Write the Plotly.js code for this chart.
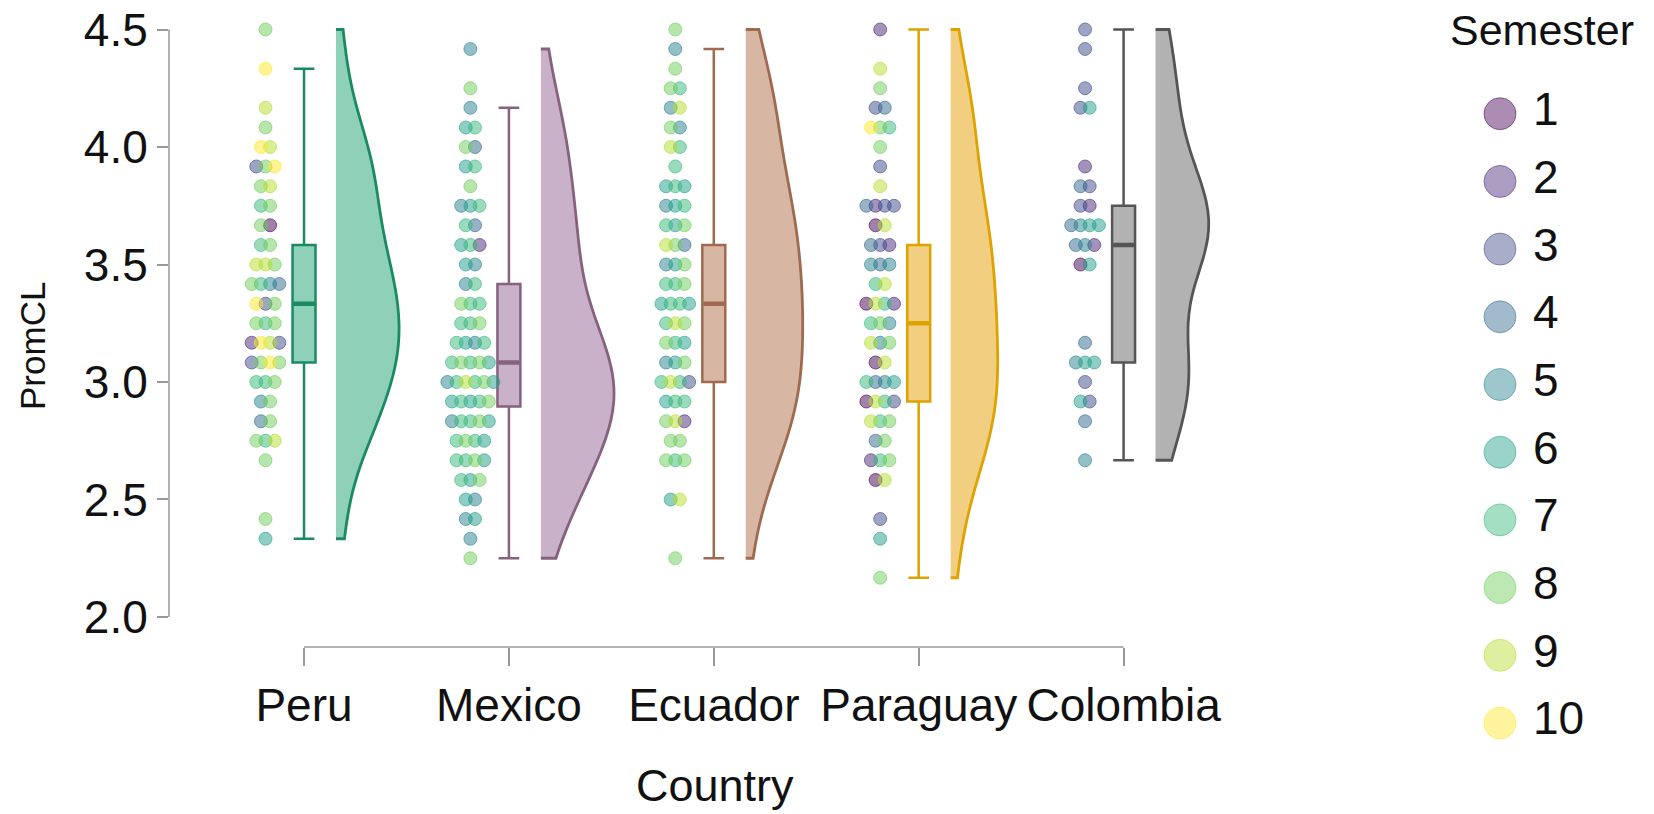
<!DOCTYPE html>
<html><head><meta charset="utf-8">
<script src="https://cdn.plot.ly/plotly-3.0.1.min.js"></script>
<style>html,body{margin:0;padding:0;background:#fff;} #chart{width:1654px;height:814px;}</style>
</head><body><div id="chart"></div>
<script>
// ---------- data ----------
const countries = ['Peru', 'Mexico', 'Ecuador', 'Paraguay', 'Colombia'];
const semesters = [1, 2, 3, 4, 5, 6, 7, 8, 9, 10];
const yTicks = [2.0, 2.5, 3.0, 3.5, 4.0, 4.5];

const peruPromCL = [4.5, 4.333, 4.167, 4.083, 4, 4, 3.917, 3.917, 3.917, 3.833, 3.833, 3.75, 3.75, 3.667, 3.667,
  3.583, 3.583, 3.5, 3.5, 3.5, 3.417, 3.417, 3.417, 3.417, 3.333, 3.333, 3.333, 3.25, 3.25, 3.25,
  3.167, 3.167, 3.167, 3.167, 3.083, 3.083, 3.083, 3.083, 3, 3, 3, 2.917, 2.917, 2.833, 2.833,
  2.75, 2.75, 2.75, 2.667, 2.417, 2.333];
const peruSemester = [8, 10, 9, 8, 10, 9, 3, 8, 10, 8, 9, 7, 8, 8, 1,
  7, 8, 9, 9, 8, 8, 7, 5, 4, 10, 3, 8, 8, 7, 8,
  2, 10, 9, 3, 3, 8, 10, 8, 7, 7, 8, 5, 8, 4, 8,
  8, 7, 9, 8, 8, 6];

const mexicoPromCL = [4.417, 4.25, 4.167, 4.083, 4.083, 4, 4, 3.917, 3.917, 3.833, 3.75, 3.75, 3.75,
  3.667, 3.667, 3.583, 3.583, 3.583, 3.5, 3.5, 3.417, 3.417, 3.333, 3.333, 3.333, 3.25, 3.25, 3.25,
  3.167, 3.167, 3.167, 3.167, 3.083, 3.083, 3.083, 3.083, 3.083, 3, 3, 3, 3, 3, 3,
  2.917, 2.917, 2.917, 2.917, 2.917, 2.833, 2.833, 2.833, 2.833, 2.833, 2.75, 2.75, 2.75, 2.75,
  2.667, 2.667, 2.667, 2.667, 2.583, 2.583, 2.583, 2.5, 2.5, 2.417, 2.417, 2.333, 2.25];
const mexicoSemester = [5, 8, 5, 6, 7, 8, 4, 6, 7, 8, 5, 6, 7,
  7, 4, 6, 7, 2, 6, 5, 5, 7, 8, 7, 7, 7, 7, 8,
  7, 6, 5, 7, 7, 8, 7, 8, 6, 5, 7, 9, 7, 8, 6,
  6, 7, 6, 7, 8, 5, 7, 7, 8, 6, 7, 8, 7, 6,
  7, 7, 8, 6, 7, 6, 8, 6, 5, 5, 6, 5, 8];

const ecuadorPromCL = [4.5, 4.417, 4.333, 4.25, 4.25, 4.167, 4.167, 4.083, 4.083, 4, 4, 3.917,
  3.833, 3.833, 3.833, 3.75, 3.75, 3.75, 3.667, 3.667, 3.667, 3.583, 3.583, 3.583, 3.5, 3.5, 3.5,
  3.417, 3.417, 3.417, 3.333, 3.333, 3.333, 3.333, 3.25, 3.25, 3.25, 3.167, 3.167, 3.167,
  3.083, 3.083, 3.083, 3, 3, 3, 3, 2.917, 2.917, 2.917, 2.833, 2.833, 2.833, 2.75, 2.75,
  2.667, 2.667, 2.667, 2.5, 2.5, 2.25];
const ecuadorSemester = [8, 5, 8, 8, 7, 5, 9, 8, 5, 9, 7, 7,
  6, 7, 6, 5, 6, 7, 7, 6, 8, 9, 8, 4, 5, 6, 8,
  7, 7, 8, 6, 7, 7, 6, 7, 9, 8, 8, 7, 6,
  5, 6, 8, 7, 9, 7, 3, 6, 7, 7, 8, 9, 2, 8, 8,
  8, 7, 8, 6, 9, 8];

const paraguayPromCL = [4.5, 4.333, 4.25, 4.167, 4.167, 4.083, 4.083, 4.083, 4, 3.917, 3.833,
  3.75, 3.75, 3.75, 3.75, 3.667, 3.667, 3.583, 3.583, 3.583, 3.5, 3.5, 3.5, 3.417, 3.417,
  3.333, 3.333, 3.333, 3.333, 3.25, 3.25, 3.25, 3.167, 3.167, 3.167, 3.083, 3.083,
  3, 3, 3, 3, 2.917, 2.917, 2.917, 2.917, 2.833, 2.833, 2.833, 2.75, 2.75,
  2.667, 2.667, 2.667, 2.583, 2.583, 2.417, 2.333, 2.167];
const paraguaySemester = [2, 9, 8, 3, 4, 10, 8, 7, 8, 3, 9,
  4, 2, 3, 3, 1, 9, 4, 3, 2, 5, 4, 5, 7, 9,
  1, 9, 7, 2, 7, 8, 5, 9, 5, 8, 1, 9,
  7, 4, 5, 6, 1, 9, 7, 3, 9, 7, 8, 4, 8,
  2, 7, 8, 1, 9, 3, 6, 8];

const colombiaPromCL = [4.5, 4.417, 4.25, 4.167, 4.167, 3.917, 3.833, 3.833, 3.75, 3.75,
  3.667, 3.667, 3.667, 3.667, 3.583, 3.583, 3.583, 3.5, 3.5, 3.167, 3.083, 3.083, 3.083,
  3, 2.917, 2.917, 2.833, 2.667];
const colombiaSemester = [3, 3, 3, 3, 6, 2, 4, 3, 3, 2,
  4, 5, 6, 6, 4, 5, 2, 1, 6, 4, 5, 6, 6,
  3, 6, 3, 4, 5];

// box statistics
const boxQ1 = [3.083, 2.896, 3.0, 2.917, 3.083];
const boxMedian = [3.333, 3.083, 3.333, 3.25, 3.583];
const boxQ3 = [3.583, 3.417, 3.583, 3.583, 3.75];
const boxLower = [2.333, 2.25, 2.25, 2.167, 2.667];
const boxUpper = [4.333, 4.167, 4.417, 4.5, 4.5];

// ---------- style ----------
const FONT = 'Liberation Sans, Arial, Helvetica, sans-serif';
const semesterColors = ['#440154', '#482878', '#3E4A89', '#31688E', '#26828E', '#1F9E89', '#35B779', '#6DCD59', '#B4DE2C', '#FDE725'];
const lineColors = ['#1A8A64', '#86627F', '#A06A50', '#DDA300', '#555555'];
const fillColors = ['rgba(29,161,113,0.5)', 'rgba(147,101,147,0.5)', 'rgba(177,109,73,0.5)', 'rgba(229,158,2,0.5)', 'rgba(102,102,102,0.5)'];
const violinWidths = [0.615, 0.713, 0.556, 0.459, 0.518];
const POINT_OFFSET = -0.188, POINT_STEP = 0.045, VIOLIN_OFFSET = 0.156, BOX_WIDTH = 0.112;

function rgba(hex, a) {
  const n = parseInt(hex.slice(1), 16);
  return 'rgba(' + ((n >> 16) & 255) + ',' + ((n >> 8) & 255) + ',' + (n & 255) + ',' + a + ')';
}

const allValues = [peruPromCL, mexicoPromCL, ecuadorPromCL, paraguayPromCL, colombiaPromCL];
const allSem = [peruSemester, mexicoSemester, ecuadorSemester, paraguaySemester, colombiaSemester];

// ---------- points (spread horizontally within each value row) ----------
const semX = semesters.map(() => []), semY = semesters.map(() => []);
allValues.forEach((vals, ci) => {
  const rows = {};
  vals.forEach((v, j) => { (rows[v] = rows[v] || []).push(j); });
  Object.keys(rows).forEach(k => {
    const idx = rows[k], n = idx.length;
    idx.forEach((j, r) => {
      const s = allSem[ci][j] - 1;
      semX[s].push(ci + 1 + POINT_OFFSET + (r - (n - 1) / 2) * POINT_STEP);
      semY[s].push(vals[j]);
    });
  });
});

const traces = [];
semesters.forEach((s, i) => {
  traces.push({
    type: 'scatter', mode: 'markers', x: semX[i], y: semY[i], name: String(s),
    showlegend: false, cliponaxis: false, hoverinfo: 'y+name',
    marker: { size: 13, color: rgba(semesterColors[i], 0.5), line: { color: rgba(semesterColors[i], 0.6), width: 1 } }
  });
});

// ---------- boxes ----------
countries.forEach((c, i) => {
  traces.push({
    type: 'box', name: c, x: [i + 1], q1: [boxQ1[i]], median: [boxMedian[i]], q3: [boxQ3[i]],
    lowerfence: [boxLower[i]], upperfence: [boxUpper[i]], boxpoints: false,
    width: BOX_WIDTH, whiskerwidth: 0.9, showlegend: false,
    line: { color: lineColors[i], width: 2.5 }, fillcolor: fillColors[i]
  });
  // heavier median bar, as in the reference
  traces.push({
    type: 'scatter', mode: 'lines', x: [i + 1 - BOX_WIDTH / 2 + 0.006, i + 1 + BOX_WIDTH / 2 - 0.006], y: [boxMedian[i], boxMedian[i]],
    line: { color: lineColors[i], width: 4.5 }, showlegend: false, hoverinfo: 'skip'
  });
});

// ---------- half violins ----------
function nrd0(v) {
  const n = v.length, m = v.reduce((a, b) => a + b, 0) / n;
  const sd = Math.sqrt(v.reduce((a, b) => a + (b - m) * (b - m), 0) / (n - 1));
  const s = v.slice().sort((a, b) => a - b);
  const q = p => { const h = (n - 1) * p, lo = Math.floor(h); return s[lo] + (h - lo) * ((s[lo + 1] ?? s[lo]) - s[lo]); };
  const iqr = q(0.75) - q(0.25);
  return 0.9 * Math.min(sd, iqr / 1.34) * Math.pow(n, -0.2);
}
countries.forEach((c, i) => {
  traces.push({
    type: 'violin', name: c, x0: i + 1 + VIOLIN_OFFSET, y: allValues[i], side: 'positive',
    width: violinWidths[i], scalemode: 'width', spanmode: 'hard', bandwidth: nrd0(allValues[i]),
    points: false, box: { visible: false }, meanline: { visible: false }, showlegend: false,
    line: { color: lineColors[i], width: 2.8 }, fillcolor: fillColors[i], hoveron: 'violins'
  });
});

// ---------- legend (drawn on its own axes) ----------
traces.push({
  type: 'scatter', mode: 'markers', xaxis: 'x2', yaxis: 'y2', x: semesters.map(() => 40), y: semesters,
  showlegend: false, hoverinfo: 'skip',
  marker: { size: 32, color: semesterColors.map(c => rgba(c, 0.45)), line: { color: semesterColors.map(c => rgba(c, 0.5)), width: 1 } }
});
traces.push({
  type: 'scatter', mode: 'text', xaxis: 'x2', yaxis: 'y2', x: semesters.map(() => 73), y: semesters,
  text: semesters.map(String), textposition: 'middle right', showlegend: false, hoverinfo: 'skip',
  textfont: { family: FONT, size: 46, color: '#111' }
});

const Y_DOM0 = 0.19773;
const layout = {
  width: 1654, height: 814,
  margin: { l: 169, r: 10, t: 10, b: 10 },
  paper_bgcolor: '#ffffff', plot_bgcolor: '#ffffff',
  font: { family: FONT, color: '#111' },
  boxmode: 'overlay', violinmode: 'overlay',
  xaxis: {
    domain: [0, 0.73288], range: [0.341, 5.617], tickvals: [1, 2, 3, 4, 5], ticktext: countries,
    ticks: 'outside', ticklen: 18, tickwidth: 1.5, tickcolor: '#999999',
    showline: false, showgrid: false, zeroline: false,
    tickfont: { family: FONT, size: 46, color: '#111' }
  },
  yaxis: {
    domain: [Y_DOM0, 0.9937], range: [1.8723, 4.5617], tickvals: yTicks, tickformat: '.1f',
    ticks: 'outside', ticklen: 11, tickwidth: 1.5, tickcolor: '#999999',
    showline: false, showgrid: false, zeroline: false,
    tickfont: { family: FONT, size: 46, color: '#111' }
  },
  xaxis2: { domain: [0.87525, 1], range: [0, 184], visible: false, anchor: 'y2' },
  yaxis2: { domain: [0, 1], range: [11.197, -0.532], visible: false, anchor: 'x2' },
  shapes: [
    { type: 'line', xref: 'paper', yref: 'y', x0: 0, x1: 0, y0: yTicks[0], y1: yTicks[yTicks.length - 1], line: { color: '#999999', width: 1.5 } },
    { type: 'line', xref: 'x', yref: 'paper', x0: 1, x1: countries.length, y0: Y_DOM0, y1: Y_DOM0, line: { color: '#999999', width: 1.5 } }
  ],
  annotations: [
    { text: 'PromCL', xref: 'paper', yref: 'paper', x: -0.0929, y: 0.5768, xanchor: 'center', yanchor: 'middle', textangle: -90, showarrow: false, font: { family: FONT, size: 35, color: '#111' } },
    { text: 'Country', xref: 'paper', yref: 'paper', x: 0.3702, y: 0.0227, xanchor: 'center', yanchor: 'middle', showarrow: false, font: { family: FONT, size: 45, color: '#111' } },
    { text: 'Semester', xref: 'paper', yref: 'paper', x: 0.9308, y: 0.9748, xanchor: 'center', yanchor: 'middle', showarrow: false, font: { family: FONT, size: 43, color: '#111' } }
  ],
  hovermode: 'closest'
};

Plotly.newPlot('chart', traces, layout, { displayModeBar: false });
</script>
</body></html>
